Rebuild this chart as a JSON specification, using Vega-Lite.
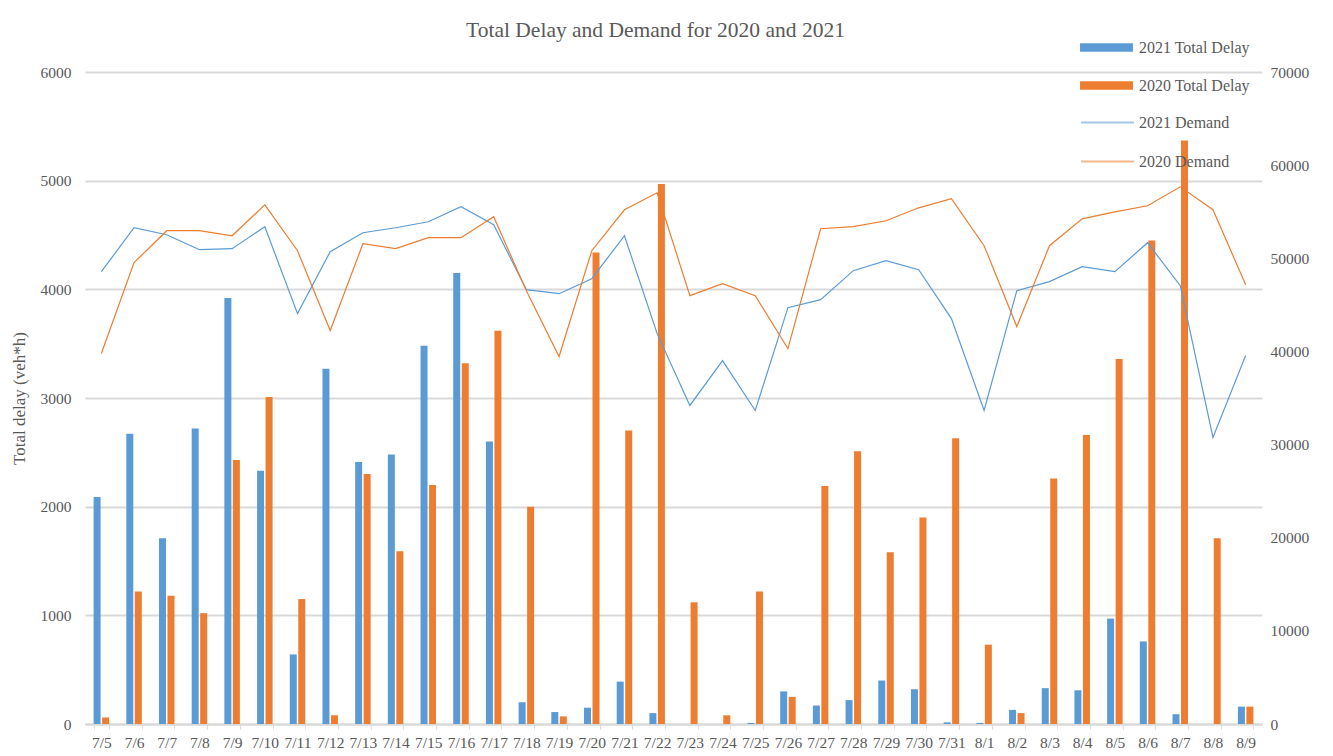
{
  "$schema": "https://vega.github.io/schema/vega-lite/v6.json",
  "width": 1177,
  "height": 652,
  "autosize": {"type": "none"},
  "padding": {"left": 85, "top": 72, "right": 71, "bottom": 32},
  "background": "white",
  "title": {
    "text": "Total Delay and Demand for 2020 and 2021",
    "font": "Liberation Serif",
    "fontSize": 21.5,
    "fontWeight": "normal",
    "color": "#595959",
    "anchor": "middle",
    "dx": -18,
    "dy": 71,
    "baseline": "alphabetic",
    "offset": 34
  },
  "config": {
    "view": {"stroke": null},
    "font": "Liberation Serif"
  },
  "data": {
    "values": [
      {"date": "7/5", "2021 Total Delay": 2090, "2020 Total Delay": 60, "2021 Demand": 48560, "2020 Demand": 39770},
      {"date": "7/6", "2021 Total Delay": 2670, "2020 Total Delay": 1220, "2021 Demand": 53280, "2020 Demand": 49530},
      {"date": "7/7", "2021 Total Delay": 1710, "2020 Total Delay": 1180, "2021 Demand": 52530, "2020 Demand": 52960},
      {"date": "7/8", "2021 Total Delay": 2720, "2020 Total Delay": 1020, "2021 Demand": 50920, "2020 Demand": 52960},
      {"date": "7/9", "2021 Total Delay": 3920, "2020 Total Delay": 2430, "2021 Demand": 51030, "2020 Demand": 52420},
      {"date": "7/10", "2021 Total Delay": 2330, "2020 Total Delay": 3010, "2021 Demand": 53390, "2020 Demand": 55740},
      {"date": "7/11", "2021 Total Delay": 640, "2020 Total Delay": 1150, "2021 Demand": 44060, "2020 Demand": 50810},
      {"date": "7/12", "2021 Total Delay": 3270, "2020 Total Delay": 80, "2021 Demand": 50710, "2020 Demand": 42240},
      {"date": "7/13", "2021 Total Delay": 2410, "2020 Total Delay": 2300, "2021 Demand": 52740, "2020 Demand": 51560},
      {"date": "7/14", "2021 Total Delay": 2480, "2020 Total Delay": 1590, "2021 Demand": 53280, "2020 Demand": 51030},
      {"date": "7/15", "2021 Total Delay": 3480, "2020 Total Delay": 2200, "2021 Demand": 53920, "2020 Demand": 52210},
      {"date": "7/16", "2021 Total Delay": 4150, "2020 Total Delay": 3320, "2021 Demand": 55530, "2020 Demand": 52210},
      {"date": "7/17", "2021 Total Delay": 2600, "2020 Total Delay": 3620, "2021 Demand": 53600, "2020 Demand": 54460},
      {"date": "7/18", "2021 Total Delay": 200, "2020 Total Delay": 2000, "2021 Demand": 46630, "2020 Demand": 46520},
      {"date": "7/19", "2021 Total Delay": 110, "2020 Total Delay": 70, "2021 Demand": 46200, "2020 Demand": 39450},
      {"date": "7/20", "2021 Total Delay": 150, "2020 Total Delay": 4340, "2021 Demand": 47810, "2020 Demand": 50810},
      {"date": "7/21", "2021 Total Delay": 390, "2020 Total Delay": 2700, "2021 Demand": 52420, "2020 Demand": 55210},
      {"date": "7/22", "2021 Total Delay": 100, "2020 Total Delay": 4970, "2021 Demand": 41910, "2020 Demand": 57030},
      {"date": "7/23", "2021 Total Delay": 0, "2020 Total Delay": 1120, "2021 Demand": 34200, "2020 Demand": 45990},
      {"date": "7/24", "2021 Total Delay": 0, "2020 Total Delay": 80, "2021 Demand": 39020, "2020 Demand": 47280},
      {"date": "7/25", "2021 Total Delay": 10, "2020 Total Delay": 1220, "2021 Demand": 33660, "2020 Demand": 45990},
      {"date": "7/26", "2021 Total Delay": 300, "2020 Total Delay": 250, "2021 Demand": 44700, "2020 Demand": 40310},
      {"date": "7/27", "2021 Total Delay": 170, "2020 Total Delay": 2190, "2021 Demand": 45560, "2020 Demand": 53170},
      {"date": "7/28", "2021 Total Delay": 220, "2020 Total Delay": 2510, "2021 Demand": 48670, "2020 Demand": 53390},
      {"date": "7/29", "2021 Total Delay": 400, "2020 Total Delay": 1580, "2021 Demand": 49740, "2020 Demand": 54030},
      {"date": "7/30", "2021 Total Delay": 320, "2020 Total Delay": 1900, "2021 Demand": 48780, "2020 Demand": 55420},
      {"date": "7/31", "2021 Total Delay": 15, "2020 Total Delay": 2630, "2021 Demand": 43520, "2020 Demand": 56390},
      {"date": "8/1", "2021 Total Delay": 10, "2020 Total Delay": 730, "2021 Demand": 33660, "2020 Demand": 51350},
      {"date": "8/2", "2021 Total Delay": 130, "2020 Total Delay": 100, "2021 Demand": 46520, "2020 Demand": 42670},
      {"date": "8/3", "2021 Total Delay": 330, "2020 Total Delay": 2260, "2021 Demand": 47490, "2020 Demand": 51350},
      {"date": "8/4", "2021 Total Delay": 310, "2020 Total Delay": 2660, "2021 Demand": 49100, "2020 Demand": 54240},
      {"date": "8/5", "2021 Total Delay": 970, "2020 Total Delay": 3360, "2021 Demand": 48560, "2020 Demand": 54990},
      {"date": "8/6", "2021 Total Delay": 760, "2020 Total Delay": 4450, "2021 Demand": 51670, "2020 Demand": 55640},
      {"date": "8/7", "2021 Total Delay": 90, "2020 Total Delay": 5370, "2021 Demand": 47060, "2020 Demand": 57670},
      {"date": "8/8", "2021 Total Delay": 0, "2020 Total Delay": 1710, "2021 Demand": 30770, "2020 Demand": 55210},
      {"date": "8/9", "2021 Total Delay": 160, "2020 Total Delay": 160, "2021 Demand": 39560, "2020 Demand": 47170}
    ]
  },
  "layer": [
    {
      "transform": [{"fold": ["2021 Total Delay", "2020 Total Delay"], "as": ["series", "value"]}],
      "mark": {"type": "bar"},
      "encoding": {
        "x": {
          "field": "date",
          "type": "nominal",
          "sort": null,
          "scale": {"paddingInner": 0.526, "paddingOuter": 0.263},
          "axis": {
            "title": null,
            "labelAngle": 0,
            "labelFont": "Liberation Serif",
            "labelFontSize": 15.5,
            "labelColor": "#595959",
            "labelPadding": 6,
            "tickBand": "extent",
            "tickColor": "#D9D9D9",
            "tickSize": 5,
            "tickWidth": 1,
            "domainColor": "#D9D9D9",
            "domainWidth": 2,
            "grid": false
          }
        },
        "xOffset": {
          "field": "series",
          "type": "nominal",
          "sort": ["2021 Total Delay", "2020 Total Delay"],
          "scale": {"paddingInner": 0.176, "paddingOuter": 0}
        },
        "y": {
          "field": "value",
          "type": "quantitative",
          "scale": {"domain": [0, 6000], "nice": false},
          "axis": {
            "title": "Total delay (veh*h)",
            "titleFont": "Liberation Serif",
            "titleFontSize": 17,
            "titleFontWeight": "normal",
            "titleColor": "#595959",
            "titlePadding": 12,
            "values": [0, 1000, 2000, 3000, 4000, 5000, 6000],
            "labelFont": "Liberation Serif",
            "labelFontSize": 15.5,
            "labelColor": "#595959",
            "labelPadding": 14,
            "ticks": false,
            "domain": false,
            "grid": true,
            "gridColor": "#D9D9D9",
            "gridWidth": 2,
            "format": "d"
          }
        },
        "fill": {
          "field": "series",
          "type": "nominal",
          "scale": {"domain": ["2021 Total Delay", "2020 Total Delay"], "range": ["#5B9BD5", "#ED7D31"]},
          "legend": {
            "orient": "none",
            "legendX": 995,
            "legendY": -51,
            "title": null,
            "padding": 0,
            "symbolType": "M-1,-0.16L1,-0.16L1,0.16L-1,0.16Z",
            "symbolSize": 2800,
            "symbolStrokeWidth": 0,
            "labelFont": "Liberation Serif",
            "labelFontSize": 16,
            "labelColor": "#595959",
            "labelOffset": 6,
            "rowPadding": 3
          }
        }
      }
    },
    {
      "transform": [{"fold": ["2021 Demand", "2020 Demand"], "as": ["series", "value"]}],
      "mark": {"type": "line", "strokeWidth": 1.2},
      "encoding": {
        "x": {"field": "date", "type": "nominal", "sort": null},
        "y": {
          "field": "value",
          "type": "quantitative",
          "scale": {"domain": [0, 70000], "nice": false},
          "axis": {
            "orient": "right",
            "title": null,
            "values": [0, 10000, 20000, 30000, 40000, 50000, 60000, 70000],
            "labelFont": "Liberation Serif",
            "labelFontSize": 15.5,
            "labelColor": "#595959",
            "labelPadding": 8,
            "ticks": false,
            "domain": false,
            "grid": false,
            "format": "d"
          }
        },
        "stroke": {
          "field": "series",
          "type": "nominal",
          "scale": {"domain": ["2021 Demand", "2020 Demand"], "range": ["#5B9BD5", "#ED7D31"]},
          "legend": {
            "orient": "none",
            "legendX": 995,
            "legendY": 23,
            "title": null,
            "padding": 0,
            "symbolType": "stroke",
            "symbolSize": 2800,
            "symbolStrokeWidth": 2,
            "symbolOpacity": 0.55,
            "labelFont": "Liberation Serif",
            "labelFontSize": 16,
            "labelColor": "#595959",
            "labelOffset": 4,
            "rowPadding": 3
          }
        }
      }
    }
  ],
  "resolve": {"scale": {"y": "independent"}}
}
